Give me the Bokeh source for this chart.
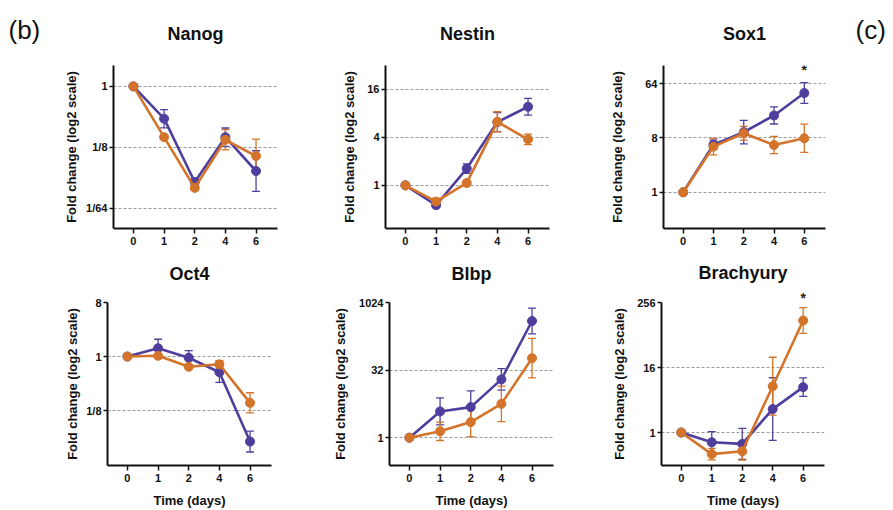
from bokeh.plotting import figure
from bokeh.models import (Range1d, FixedTicker, ColumnDataSource, Whisker, TeeHead, Label,
                          LinearAxis)
from bokeh.layouts import column, row
from bokeh.embed import file_html
from bokeh.resources import INLINE

# ---------------- data (log2 fold change) ----------------
days = ["0", "1", "2", "4", "6"]

nanog_purple = [0, -1.59, -4.71, -2.50, -4.17]
nanog_purple_err = [0, 0.45, 0.15, 0.45, 1.00]
nanog_orange = [0, -2.50, -5.00, -2.63, -3.43]
nanog_orange_err = [0, 0.10, 0.10, 0.50, 0.83]

nestin_purple = [0, -0.83, 0.70, 2.64, 3.28]
nestin_purple_err = [0, 0.10, 0.20, 0.40, 0.35]
nestin_orange = [0, -0.68, 0.10, 2.65, 1.92]
nestin_orange_err = [0, 0.15, 0.05, 0.42, 0.22]

sox1_purple = [0, 2.63, 3.32, 4.24, 5.48]
sox1_purple_err = [0, 0.25, 0.65, 0.47, 0.57]
sox1_orange = [0, 2.52, 3.26, 2.61, 2.98]
sox1_orange_err = [0, 0.46, 0.38, 0.48, 0.78]

oct4_purple = [0, 0.46, -0.07, -0.87, -4.72]
oct4_purple_err = [0, 0.50, 0.40, 0.56, 0.58]
oct4_orange = [0, 0.04, -0.57, -0.43, -2.57]
oct4_orange_err = [0, 0.05, 0.05, 0.20, 0.56]

blbp_purple = [0, 1.94, 2.26, 4.31, 8.63]
blbp_purple_err = [0, 1.00, 1.20, 0.80, 0.95]
blbp_orange = [0, 0.47, 1.15, 2.50, 5.88]
blbp_orange_err = [0, 0.68, 1.08, 1.32, 1.46]

brachyury_purple = [0, -0.60, -0.70, 1.44, 2.79]
brachyury_purple_err = [0, 0.66, 0.95, 1.93, 0.57]
brachyury_orange = [0, -1.33, -1.15, 2.85, 6.89]
brachyury_orange_err = [0, 0.35, 0.55, 1.78, 0.79]

# y ticks (log2 positions) and labels
nanog_ticks, nanog_labels = [-6, -3, 0], ["1/64", "1/8", "1"]
nestin_ticks, nestin_labels = [0, 2, 4], ["1", "4", "16"]
sox1_ticks, sox1_labels = [0, 3, 6], ["1", "8", "64"]
oct4_ticks, oct4_labels = [-3, 0, 3], ["1/8", "1", "8"]
blbp_ticks, blbp_labels = [0, 5, 10], ["1", "32", "1024"]
brachyury_ticks, brachyury_labels = [0, 4, 8], ["1", "16", "256"]

PURPLE = "#4f3e9d"
ORANGE = "#d4742a"
FONT = "Liberation Sans"


def panel(title, purple, purple_err, orange, orange_err, ticks, labels, ylim,
          left, right, top, bottom, fw, fh, ylab_standoff, title_standoff,
          xlabel=None, star_inside=None, star_above=None):
    p = figure(frame_width=fw, frame_height=fh, title=None,
               min_border_left=left, min_border_right=right,
               min_border_top=top, min_border_bottom=bottom,
               x_range=Range1d(-0.65, 4.7), y_range=Range1d(*ylim),
               output_backend="svg", toolbar_location=None)
    p.outline_line_color = None
    p.background_fill_color = "white"
    p.border_fill_color = "white"

    xs = list(range(len(days)))
    for ax in (p.xaxis[0], p.yaxis[0]):
        ax.axis_line_width = 2
        ax.axis_line_color = "#111111"
        ax.major_tick_line_width = 1.5
        ax.major_tick_line_color = "#111111"
        ax.major_tick_in = 0
        ax.major_tick_out = 5
        ax.minor_tick_line_color = None
        ax.major_label_text_font = FONT
        ax.major_label_text_font_style = "bold"
        ax.major_label_text_font_size = "11px"
        ax.major_label_text_color = "#111111"
        ax.major_label_standoff = 3
        ax.axis_label_text_font = FONT
        ax.axis_label_text_font_style = "bold"
        ax.axis_label_text_font_size = "13px"
        ax.axis_label_text_color = "#111111"

    p.xaxis.ticker = FixedTicker(ticks=xs)
    p.xaxis.major_label_overrides = {i: d for i, d in zip(xs, days)}
    p.yaxis.ticker = FixedTicker(ticks=ticks)
    p.yaxis.major_label_overrides = {t: l for t, l in zip(ticks, labels)}
    p.yaxis.major_tick_out = 4
    p.yaxis.major_label_standoff = 2
    p.yaxis.axis_label = "Fold change (log2 scale)"
    p.yaxis.axis_label_standoff = ylab_standoff
    if xlabel:
        p.xaxis.axis_label = xlabel
        p.xaxis.axis_label_standoff = 8

    # panel title (and significance mark above the frame) as an axis above
    star_ticks = [star_above] if star_above is not None else []
    tax = LinearAxis(ticker=FixedTicker(ticks=star_ticks),
                     major_label_overrides={t: "*" for t in star_ticks},
                     axis_line_color=None, major_tick_line_color=None,
                     minor_tick_line_color=None, major_tick_in=0, major_tick_out=0,
                     major_label_standoff=-3, major_label_text_font=FONT,
                     major_label_text_font_style="bold", major_label_text_font_size="14px",
                     major_label_text_color="#222222",
                     axis_label=title, axis_label_standoff=title_standoff,
                     axis_label_text_font=FONT, axis_label_text_font_style="bold",
                     axis_label_text_font_size="18px", axis_label_text_color="#111111")
    p.add_layout(tax, "above")

    p.xgrid.visible = False
    p.ygrid.grid_line_color = "#9a9a9a"
    p.ygrid.grid_line_dash = "3 2"
    p.ygrid.grid_line_width = 1

    for vals, errs, col in ((purple, purple_err, PURPLE), (orange, orange_err, ORANGE)):
        ex = [x for x, e in zip(xs, errs) if e > 0]
        ev = [v for v, e in zip(vals, errs) if e > 0]
        ee = [e for e in errs if e > 0]
        esrc = ColumnDataSource(dict(x=ex, upper=[v + e for v, e in zip(ev, ee)],
                                     lower=[v - e for v, e in zip(ev, ee)]))
        w = Whisker(source=esrc, base="x", upper="upper", lower="lower",
                    line_color=col, line_width=1.3,
                    upper_head=TeeHead(size=8, line_color=col, line_width=1.3),
                    lower_head=TeeHead(size=8, line_color=col, line_width=1.3))
        p.add_layout(w)
        src = ColumnDataSource(dict(x=xs, y=vals))
        p.line("x", "y", source=src, line_color=col, line_width=2.6)
        p.scatter("x", "y", source=src, marker="circle", size=9, fill_color=col, line_color=col)

    if star_inside is not None:
        p.add_layout(Label(x=star_inside[0], y=star_inside[1], text="*", text_align="center",
                           text_baseline="middle", text_font=FONT, text_font_style="bold",
                           text_font_size="14px", text_color="#222222"))
    return p


f1 = panel("Nanog", nanog_purple, nanog_purple_err, nanog_orange, nanog_orange_err,
           nanog_ticks, nanog_labels, (-7.0, 1.03), 113, 10, 65, 26, 164, 163, 4, 22)
f2 = panel("Nestin", nestin_purple, nestin_purple_err, nestin_orange, nestin_orange_err,
           nestin_ticks, nestin_labels, (-1.8, 5.0), 98, 10, 65, 26, 164, 163, 7, 22)
f3 = panel("Sox1", sox1_purple, sox1_purple_err, sox1_orange, sox1_orange_err,
           sox1_ticks, sox1_labels, (-2.0, 7.0), 104, 68, 65, 26, 162, 163, 17, 22,
           star_inside=(4, 6.75))

f4 = panel("Oct4", oct4_purple, oct4_purple_err, oct4_orange, oct4_orange_err,
           oct4_ticks, oct4_labels, (-6.05, 3.0), 107, 10, 48, 45, 164, 163, 3, 19,
           xlabel="Time (days)")
f5 = panel("Blbp", blbp_purple, blbp_purple_err, blbp_orange, blbp_orange_err,
           blbp_ticks, blbp_labels, (-2.06, 10.0), 108, 10, 48, 45, 164, 163, 8, 19,
           xlabel="Time (days)")
f6 = panel("Brachyury", brachyury_purple, brachyury_purple_err, brachyury_orange,
           brachyury_orange_err, brachyury_ticks, brachyury_labels, (-2.03, 8.0),
           98, 69, 48, 45, 163, 163, 7, 4, xlabel="Time (days)", star_above=4)

f1.add_layout(Label(x=8, y=29, x_units="canvas", y_units="canvas", text="(b)",
                    text_font=FONT, text_font_size="26px", text_baseline="middle",
                    text_color="#111111"), "left")
f3.add_layout(Label(x=296, y=29, x_units="canvas", y_units="canvas", text="(c)",
                    text_font=FONT, text_font_size="26px", text_baseline="middle",
                    text_color="#111111"), "right")

layout = column(row(f1, f2, f3), row(f4, f5, f6))

open("out.html", "w").write(file_html(layout, INLINE))
